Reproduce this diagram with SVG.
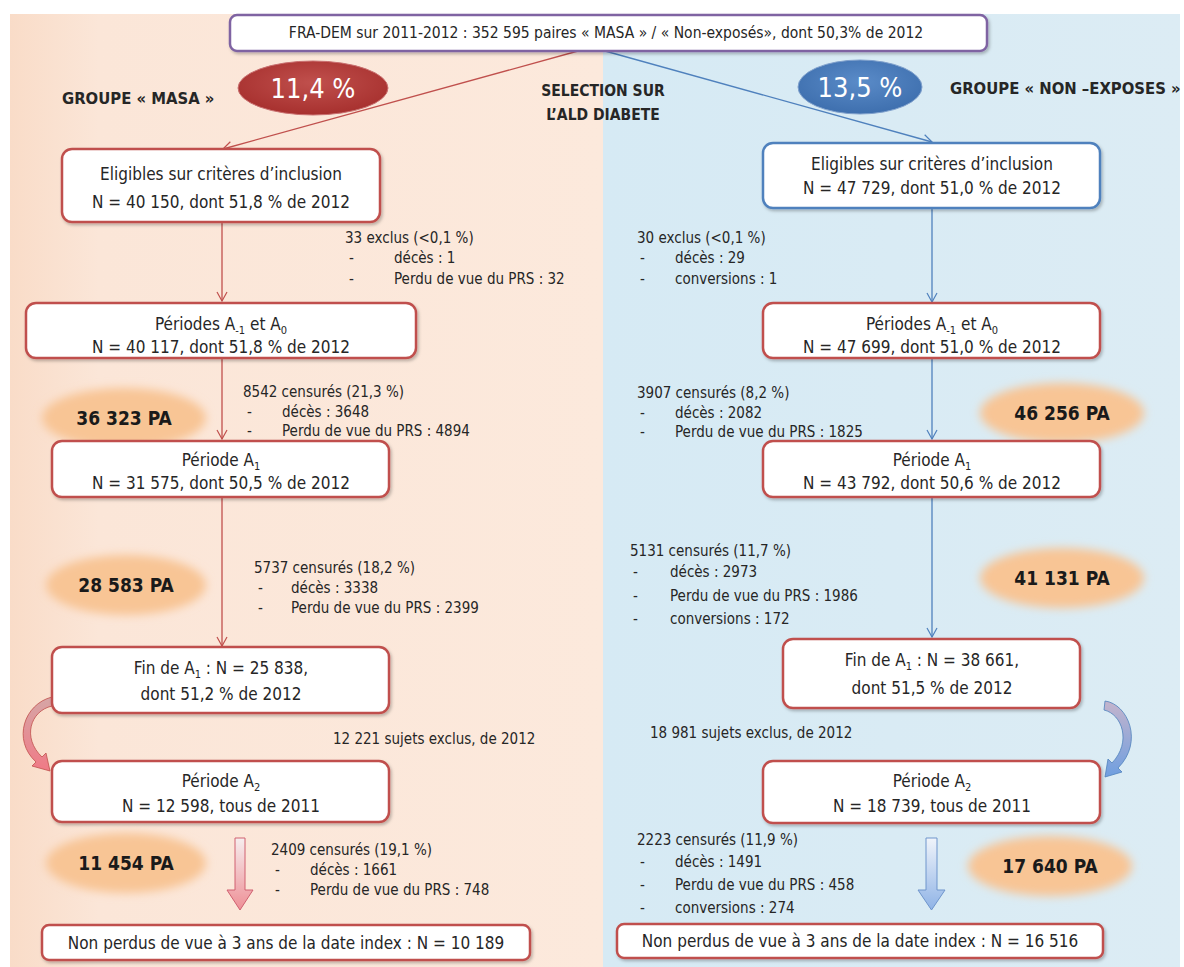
<svg xmlns="http://www.w3.org/2000/svg" width="1184" height="967" viewBox="0 0 1184 967">
<defs>
<linearGradient id="peach" x1="0" y1="0" x2="1" y2="0"><stop offset="0" stop-color="#f9dcc8"/><stop offset="0.15" stop-color="#fbe6d8"/><stop offset="1" stop-color="#fce9dc"/></linearGradient>
<linearGradient id="sky" x1="0" y1="0" x2="1" y2="0"><stop offset="0" stop-color="#d6eaf4"/><stop offset="1" stop-color="#dcecf4"/></linearGradient>
<radialGradient id="redEll" cx="0.5" cy="0.4" r="0.6"><stop offset="0" stop-color="#c0504d"/><stop offset="1" stop-color="#a7302e"/></radialGradient>
<radialGradient id="blueEll" cx="0.5" cy="0.4" r="0.6"><stop offset="0" stop-color="#5a8bc8"/><stop offset="1" stop-color="#3e6fae"/></radialGradient>
<linearGradient id="pinkArr" x1="0" y1="0" x2="0" y2="1"><stop offset="0" stop-color="#f6eeee"/><stop offset="1" stop-color="#ee8f96"/></linearGradient>
<linearGradient id="blueArr" x1="0" y1="0" x2="0" y2="1"><stop offset="0" stop-color="#f0f4fa"/><stop offset="1" stop-color="#8fb3e6"/></linearGradient>
<linearGradient id="pinkCurve" x1="0" y1="0" x2="0" y2="1"><stop offset="0" stop-color="#d6a6a6"/><stop offset="1" stop-color="#f07a86"/></linearGradient>
<linearGradient id="blueCurve" x1="0" y1="0" x2="0" y2="1"><stop offset="0" stop-color="#c4b4cc"/><stop offset="1" stop-color="#6f9fe0"/></linearGradient>
<filter id="blur" x="-30%" y="-50%" width="160%" height="200%"><feGaussianBlur stdDeviation="5"/></filter>
<filter id="shadow" x="-5%" y="-10%" width="110%" height="130%"><feDropShadow dx="1.5" dy="2" stdDeviation="1.5" flood-color="#000" flood-opacity="0.25"/></filter>
<marker id="arrR" markerWidth="12" markerHeight="12" refX="10" refY="6" orient="auto" markerUnits="userSpaceOnUse"><path d="M1,1 L10,6 L1,11" fill="none" stroke="#c0504d" stroke-width="1.2"/></marker>
<marker id="arrB" markerWidth="12" markerHeight="12" refX="10" refY="6" orient="auto" markerUnits="userSpaceOnUse"><path d="M1,1 L10,6 L1,11" fill="none" stroke="#4f81bd" stroke-width="1.2"/></marker>
</defs>
<style>
text{font-family:"DejaVu Sans Condensed","Liberation Sans Narrow","Liberation Sans",sans-serif;fill:#262626}
.box{fill:#fff;stroke:#c0504d;stroke-width:2.5;filter:url(#shadow)}
.boxb{fill:#fff;stroke:#4f81bd;stroke-width:2.5;filter:url(#shadow)}
.t{font-size:17px;text-anchor:middle}
.s{font-size:15px}
.g{font-size:16.5px;font-weight:bold}
.pa{font-size:19px;font-weight:bold;text-anchor:middle;fill:#1a1a1a}
.blob{fill:#f8c595;filter:url(#blur)}
.lr{stroke:#c0504d;stroke-width:1.3;fill:none;marker-end:url(#arrR)}
.lb{stroke:#4f81bd;stroke-width:1.3;fill:none;marker-end:url(#arrB)}
.sub{font-size:11px}
</style>
<rect x="0" y="0" width="1184" height="967" fill="#fff"/>
<rect x="10" y="14" width="593" height="953" fill="url(#peach)"/>
<rect x="603" y="14" width="577" height="953" fill="url(#sky)"/>

<g id="connectors">
<line class="lr" x1="578" y1="51" x2="223" y2="149"/>
<line class="lb" x1="605" y1="51" x2="932" y2="142"/>
<line class="lr" x1="222" y1="222" x2="222" y2="301"/>
<line class="lr" x1="222" y1="358" x2="222" y2="439"/>
<line class="lr" x1="222" y1="497" x2="222" y2="646"/>
<line class="lb" x1="932" y1="208" x2="932" y2="302"/>
<line class="lb" x1="932" y1="358" x2="932" y2="439"/>
<line class="lb" x1="932" y1="497" x2="932" y2="637"/>
<path d="M52,697 C24,704 12,740 36,762 L32,766 L50,771 L46,753 L42,757 C22,738 30,711 52,706 Z" fill="url(#pinkCurve)" stroke="#c0504d" stroke-width="0.8"/>
<path d="M1105,701 C1128,704 1144,742 1118,768 L1122,772 L1105,777 L1108,759 L1112,763 C1132,742 1122,714 1104,710 Z" fill="url(#blueCurve)" stroke="#4f81bd" stroke-width="0.8"/>
<path d="M235,838 L245,838 L245,890 L253,890 L240,910 L227,890 L235,890 Z" fill="url(#pinkArr)" stroke="#d06070" stroke-width="1"/>
<path d="M926,838 L937,838 L937,890 L945,890 L931.5,910 L918,890 L926,890 Z" fill="url(#blueArr)" stroke="#6f95cc" stroke-width="1"/>
</g>

<g id="top"><rect x="230" y="15" width="757" height="36" rx="7" fill="#fff" stroke="#7f64a2" stroke-width="2.5" filter="url(#shadow)"/>
<text x="606" y="38" class="t" style="font-size:15.5px">FRA-DEM sur 2011-2012 : 352 595 paires « MASA » / « Non-exposés», dont 50,3% de 2012</text></g>

<g id="label-masa"><text x="62" y="104" class="g">GROUPE « MASA  »</text></g>
<g id="ell-masa"><ellipse cx="313" cy="88" rx="75" ry="27" fill="url(#redEll)" stroke="#c97070" stroke-width="1"/><text x="313" y="98" text-anchor="middle" style="font-size:27px;fill:#fff">11,4 %</text></g>
<g id="label-sel"><text x="603" y="96" class="g" text-anchor="middle" style="font-size:15.5px">SELECTION SUR</text><text x="603" y="120" class="g" text-anchor="middle" style="font-size:15.5px">L’ALD DIABETE</text></g>
<g id="ell-non"><ellipse cx="860" cy="87" rx="62" ry="27" fill="url(#blueEll)" stroke="#7fa0cc" stroke-width="1"/><text x="860" y="97" text-anchor="middle" style="font-size:27px;fill:#fff">13,5 %</text></g>
<g id="label-non"><text x="950" y="94" class="g">GROUPE « NON –EXPOSES »</text></g>

<g id="L-elig"><rect class="box" x="62" y="149" width="318" height="73" rx="10"/><text x="221" y="180" class="t">Eligibles sur critères d’inclusion</text><text x="221" y="208" class="t">N  = 40 150, dont 51,8 % de 2012</text></g>
<g id="L-excl"><text x="345" y="243" class="s">33 exclus (&lt;0,1  %)</text><text x="349" y="263" class="s">-</text><text x="394" y="263" class="s">décès : 1</text><text x="349" y="284" class="s">-</text><text x="394" y="284" class="s">Perdu de vue du PRS : 32</text></g>
<g id="L-per0"><rect class="box" x="26" y="303" width="390" height="55" rx="10"/><text x="221" y="330" class="t">Périodes A<tspan class="sub" dy="4">-1</tspan><tspan dy="-4"> et A</tspan><tspan class="sub" dy="4">0</tspan></text><text x="221" y="353" class="t">N = 40 117, dont 51,8 % de 2012</text></g>
<g id="L-pa1"><ellipse class="blob" cx="124" cy="418" rx="82" ry="30"/><text x="124" y="425" class="pa">36 323 PA</text></g>
<g id="L-cens1"><text x="243" y="397" class="s">8542 censurés (21,3 %)</text><text x="247" y="417" class="s">-</text><text x="282" y="417" class="s">décès : 3648</text><text x="247" y="436" class="s">-</text><text x="282" y="436" class="s">Perdu de vue du PRS : 4894</text></g>
<g id="L-per1"><rect class="box" x="52" y="441" width="337" height="56" rx="10"/><text x="221" y="466" class="t">Période A<tspan class="sub" dy="4">1</tspan></text><text x="221" y="489" class="t">N = 31 575, dont 50,5 % de 2012</text></g>
<g id="L-pa2"><ellipse class="blob" cx="126" cy="585" rx="80" ry="30"/><text x="126" y="592" class="pa">28 583 PA</text></g>
<g id="L-cens2"><text x="254" y="573" class="s">5737 censurés (18,2 %)</text><text x="258" y="593" class="s">-</text><text x="291" y="593" class="s">décès : 3338</text><text x="258" y="613" class="s">-</text><text x="291" y="613" class="s">Perdu de vue du PRS : 2399</text></g>
<g id="L-fin"><rect class="box" x="52" y="647" width="337" height="66" rx="10"/><text x="221" y="674" class="t">Fin de A<tspan class="sub" dy="4">1</tspan><tspan dy="-4"> : N = 25 838,</tspan></text><text x="221" y="700" class="t">dont 51,2 % de 2012</text></g>
<g id="L-ex2"><text x="333" y="744" class="s">12 221 sujets exclus, de 2012</text></g>
<g id="L-per2"><rect class="box" x="52" y="761" width="337" height="61" rx="10"/><text x="221" y="787" class="t">Période A<tspan class="sub" dy="4">2</tspan></text><text x="221" y="812" class="t">N = 12 598, tous de 2011</text></g>
<g id="L-pa3"><ellipse class="blob" cx="126" cy="863" rx="80" ry="30"/><text x="126" y="870" class="pa">11 454 PA</text></g>
<g id="L-cens3"><text x="271" y="855" class="s">2409 censurés (19,1 %)</text><text x="275" y="875" class="s">-</text><text x="310" y="875" class="s">décès : 1661</text><text x="275" y="895" class="s">-</text><text x="310" y="895" class="s">Perdu de vue du PRS : 748</text></g>
<g id="L-end"><rect class="box" x="42" y="925" width="488" height="35" rx="7"/><text x="286" y="949" class="t">Non perdus de vue à 3 ans de la date index : N = 10 189</text></g>

<g id="R-elig"><rect class="boxb" x="763" y="143" width="337" height="65" rx="10"/><text x="932" y="170" class="t">Eligibles sur critères d’inclusion</text><text x="932" y="194" class="t">N  = 47 729, dont 51,0 % de 2012</text></g>
<g id="R-excl"><text x="637" y="243" class="s">30 exclus (&lt;0,1 %)</text><text x="640" y="263" class="s">-</text><text x="675" y="263" class="s">décès : 29</text><text x="640" y="284" class="s">-</text><text x="675" y="284" class="s">conversions : 1</text></g>
<g id="R-per0"><rect class="boxb" x="763" y="303" width="337" height="55" rx="10" style="stroke:#c0504d"/><text x="932" y="330" class="t">Périodes A<tspan class="sub" dy="4">-1</tspan><tspan dy="-4"> et A</tspan><tspan class="sub" dy="4">0</tspan></text><text x="932" y="353" class="t">N = 47 699, dont 51,0 % de 2012</text></g>
<g id="R-cens1"><text x="637" y="398" class="s">3907 censurés (8,2 %)</text><text x="640" y="418" class="s">-</text><text x="675" y="418" class="s">décès : 2082</text><text x="640" y="437" class="s">-</text><text x="675" y="437" class="s">Perdu de vue du PRS : 1825</text></g>
<g id="R-pa1"><ellipse class="blob" cx="1062" cy="413" rx="82" ry="30"/><text x="1062" y="420" class="pa">46 256 PA</text></g>
<g id="R-per1"><rect class="boxb" x="763" y="441" width="337" height="56" rx="10" style="stroke:#c0504d"/><text x="932" y="466" class="t">Période A<tspan class="sub" dy="4">1</tspan></text><text x="932" y="489" class="t">N = 43 792, dont 50,6  % de 2012</text></g>
<g id="R-cens2"><text x="630" y="556" class="s">5131 censurés (11,7 %)</text><text x="633" y="577" class="s">-</text><text x="670" y="577" class="s">décès : 2973</text><text x="633" y="601" class="s">-</text><text x="670" y="601" class="s">Perdu de vue du PRS : 1986</text><text x="633" y="624" class="s">-</text><text x="670" y="624" class="s">conversions : 172</text></g>
<g id="R-pa2"><ellipse class="blob" cx="1062" cy="578" rx="82" ry="30"/><text x="1062" y="585" class="pa">41 131 PA</text></g>
<g id="R-fin"><rect class="boxb" x="783" y="639" width="297" height="69" rx="10" style="stroke:#c0504d"/><text x="932" y="666" class="t">Fin de A<tspan class="sub" dy="4">1</tspan><tspan dy="-4"> : N = 38 661,</tspan></text><text x="932" y="694" class="t">dont 51,5 % de 2012</text></g>
<g id="R-ex2"><text x="650" y="738" class="s">18 981 sujets exclus, de 2012</text></g>
<g id="R-per2"><rect class="boxb" x="763" y="761" width="337" height="62" rx="10" style="stroke:#c0504d"/><text x="932" y="787" class="t">Période A<tspan class="sub" dy="4">2</tspan></text><text x="932" y="812" class="t">N = 18 739, tous de 2011</text></g>
<g id="R-cens3"><text x="637" y="845" class="s">2223 censurés (11,9 %)</text><text x="640" y="867" class="s">-</text><text x="675" y="867" class="s">décès : 1491</text><text x="640" y="890" class="s">-</text><text x="675" y="890" class="s">Perdu de vue du PRS : 458</text><text x="640" y="913" class="s">-</text><text x="675" y="913" class="s">conversions : 274</text></g>
<g id="R-pa3"><ellipse class="blob" cx="1050" cy="866" rx="82" ry="30"/><text x="1050" y="873" class="pa">17 640 PA</text></g>
<g id="R-end"><rect class="box" x="617" y="924" width="486" height="34" rx="7"/><text x="860" y="947" class="t">Non perdus de vue à 3 ans de la date index : N = 16 516</text></g>
</svg>
